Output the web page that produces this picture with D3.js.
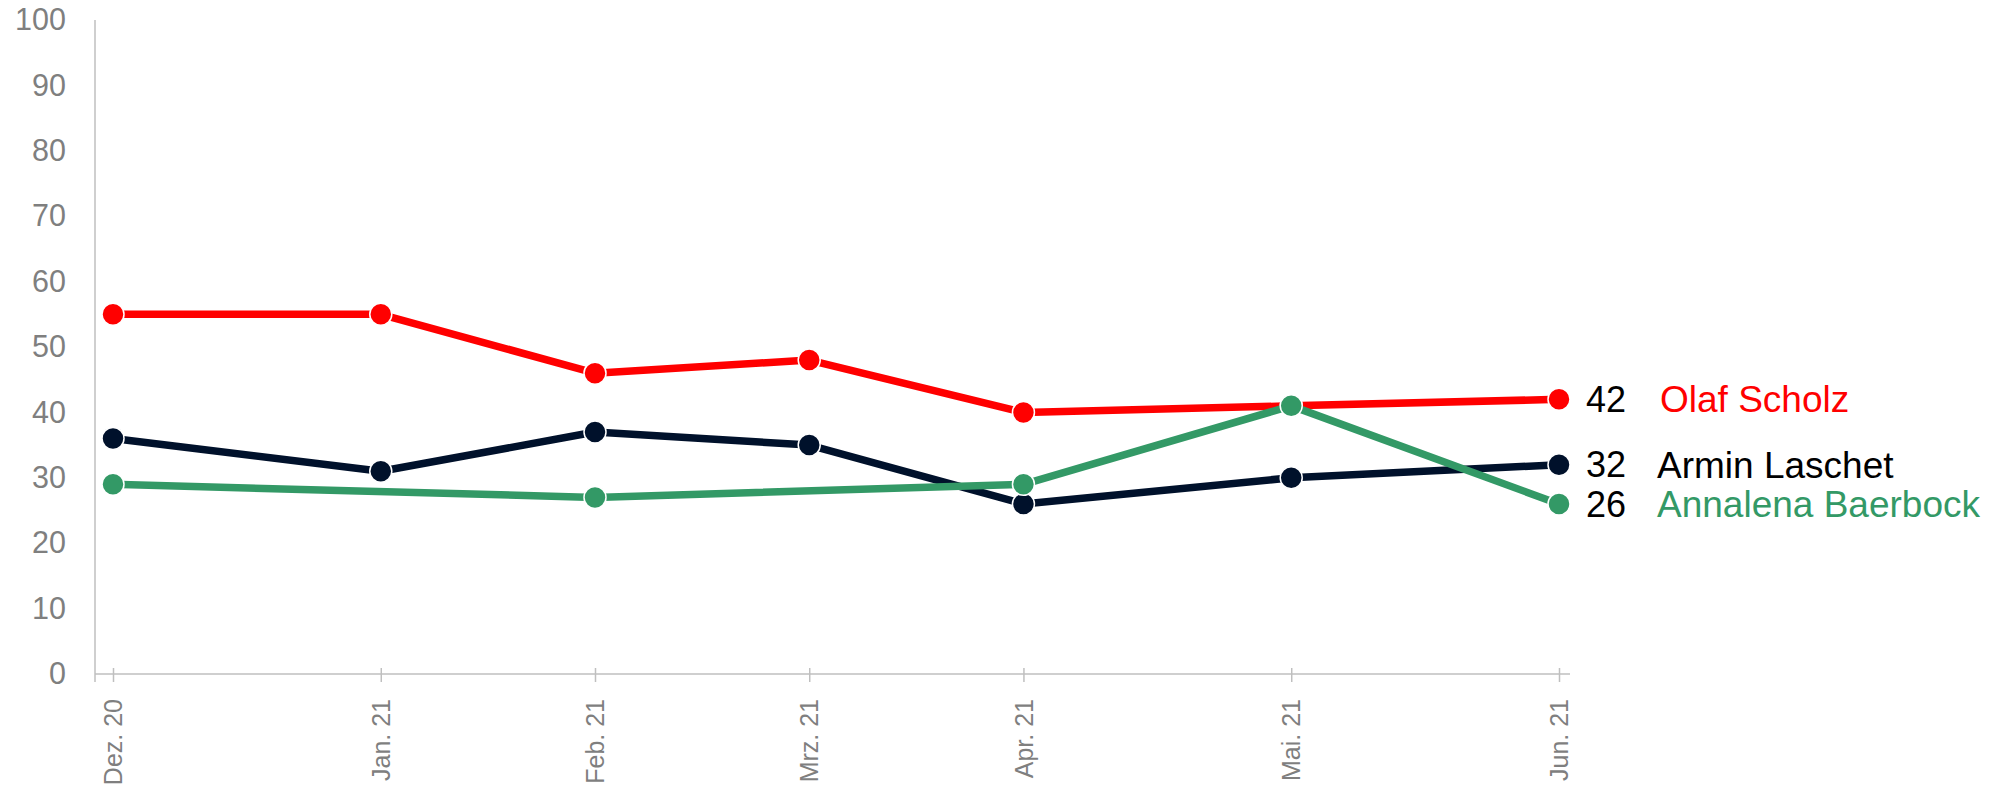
<!DOCTYPE html>
<html>
<head>
<meta charset="utf-8">
<script src="https://cdn.jsdelivr.net/npm/d3@7"></script>
<style>
  body { margin: 0; background: #fff; }
  svg { display: block; font-family: "Liberation Sans", Arial, sans-serif; }
</style>
</head>
<body>
<div id="chart"></div>
<script>
const width = 1992;
const height = 790;

// survey dates (weekly spacing between polls) and their month labels
const dates = ["2020-12-08", "2021-01-12", "2021-02-09", "2021-03-09", "2021-04-06", "2021-05-11", "2021-06-15"];
const monthLabels = ["Dez. 20", "Jan. 21", "Feb. 21", "Mrz. 21", "Apr. 21", "Mai. 21", "Jun. 21"];
const yTicks = [0, 10, 20, 30, 40, 50, 60, 70, 80, 90, 100];

const names = ["Olaf Scholz", "Armin Laschet", "Annalena Baerbock"];
const scholz = [55, 55, 46, 48, 40, 41, 42];
const laschet = [36, 31, 37, 35, 26, 30, 32];
const baerbock = [29, null, 27, null, 29, 41, 26];
const colorList = ["#ff0000", "#00112b", "#339966"];

const parse = d3.timeParse("%Y-%m-%d");
const xDates = dates.map(parse);

const series = [scholz, laschet, baerbock].map((vals, i) => ({
    name: names[i],
    color: colorList[i],
    points: vals.map((v, j) => ({date: xDates[j], value: v})).filter(p => p.value !== null)
}));

const svg = d3.select("#chart").append("svg")
    .attr("width", width)
    .attr("height", height);

const x = d3.scaleTime()
    .domain(d3.extent(xDates))
    .range([113, 1559]);

const y = d3.scaleLinear()
    .domain([0, 100])
    .range([674, 20]);

// y axis
const yAxis = svg.append("g")
    .attr("transform", "translate(95,0)")
    .call(d3.axisLeft(y).tickValues(yTicks).tickSize(0).tickPadding(29));
yAxis.select(".domain").remove();
yAxis.selectAll("text")
    .attr("fill", "#7f7f7f")
    .style("font-size", "30.5px")
    .style("font-family", "Liberation Sans, Arial, sans-serif");

svg.append("line")
    .attr("x1", 95).attr("x2", 95)
    .attr("y1", 20).attr("y2", 682)
    .attr("stroke", "#bfbfbf")
    .attr("stroke-width", 1.5);

// x axis
svg.append("line")
    .attr("x1", 95).attr("x2", 1570)
    .attr("y1", 674).attr("y2", 674)
    .attr("stroke", "#bfbfbf")
    .attr("stroke-width", 1.5);

const xAxis = svg.append("g")
    .attr("transform", "translate(0,674)")
    .call(d3.axisBottom(x)
        .tickValues(xDates)
        .tickFormat((d, i) => monthLabels[i])
        .tickSize(0));
xAxis.select(".domain").remove();
xAxis.selectAll(".tick line")
    .attr("y1", -6).attr("y2", 8)
    .attr("stroke", "#bfbfbf")
    .attr("stroke-width", 1.5);
xAxis.selectAll("text")
    .attr("fill", "#7f7f7f")
    .style("font-size", "25px")
    .style("font-family", "Liberation Sans, Arial, sans-serif")
    .attr("text-anchor", "end")
    .attr("transform", "rotate(-90)")
    .attr("x", -25)
    .attr("y", 0)
    .attr("dy", "0.35em");

// lines
const line = d3.line()
    .x(d => x(d.date))
    .y(d => y(d.value));

const groups = svg.selectAll(".series")
    .data(series)
    .enter().append("g")
    .attr("class", "series");

groups.append("path")
    .attr("d", d => line(d.points))
    .attr("fill", "none")
    .attr("stroke", d => d.color)
    .attr("stroke-width", 7.5)
    .attr("stroke-linejoin", "round");

groups.selectAll("circle")
    .data(d => d.points.map(p => ({...p, color: d.color})))
    .enter().append("circle")
    .attr("cx", d => x(d.date))
    .attr("cy", d => y(d.value))
    .attr("r", 11)
    .attr("fill", d => d.color)
    .attr("stroke", "#fff")
    .attr("stroke-width", 1.5);

// end labels
const labels = svg.selectAll(".endlabel")
    .data(series)
    .enter().append("g")
    .attr("class", "endlabel")
    .attr("transform", d => {
        const last = d.points[d.points.length - 1];
        return "translate(0," + y(last.value) + ")";
    });

labels.append("text")
    .attr("x", 1586)
    .attr("dy", "0.35em")
    .style("font-size", "36px")
    .attr("fill", "#000")
    .text(d => d.points[d.points.length - 1].value);

labels.append("text")
    .attr("x", d => d.name === "Olaf Scholz" ? 1660 : 1657)
    .attr("dy", "0.35em")
    .style("font-size", "37px")
    .attr("fill", d => d.name === "Armin Laschet" ? "#000" : d.color)
    .text(d => d.name);
</script>
</body>
</html>
